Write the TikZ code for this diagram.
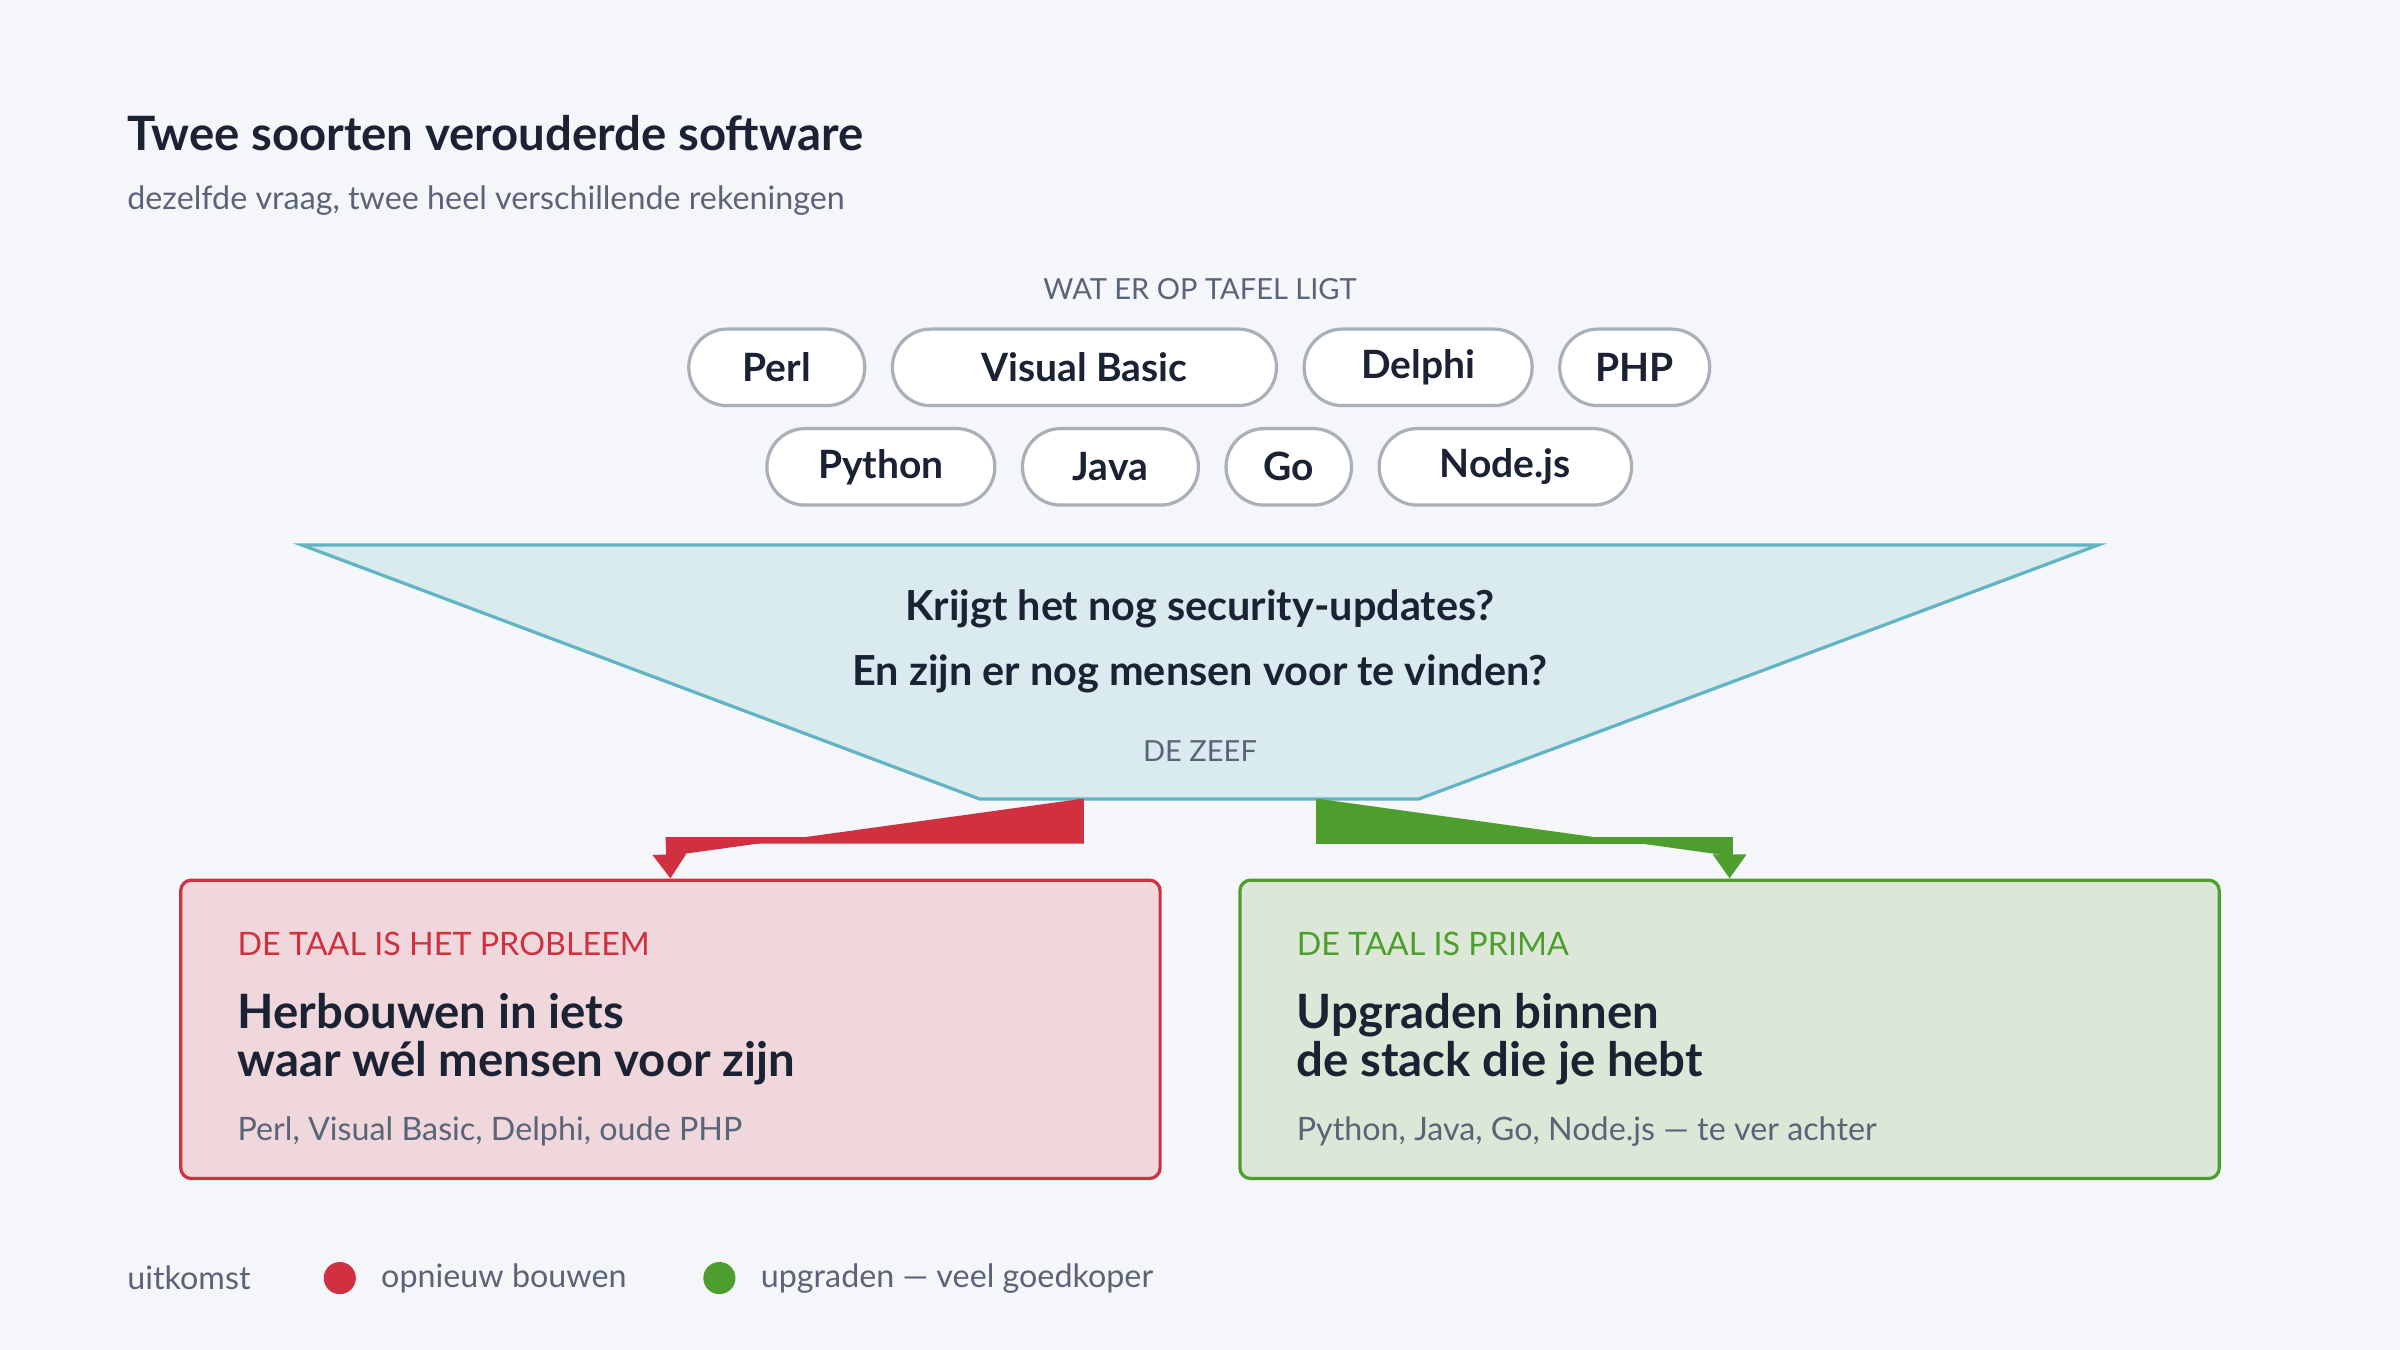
\documentclass[tikz,border=0pt]{standalone}
\usepackage{fontspec}
\setmainfont{Lato}
\usetikzlibrary{arrows.meta,positioning}
\definecolor{bg}{HTML}{F4F6FA}
\definecolor{ink}{HTML}{1A2233}
\definecolor{muted}{HTML}{5A6478}
\definecolor{redc}{HTML}{D0303F}
\definecolor{redf}{HTML}{EFD7DC}
\definecolor{greenc}{HTML}{4E9E2E}
\definecolor{greenf}{HTML}{DDE7D8}
\definecolor{bluef}{HTML}{D9EBEF}
\definecolor{bluec}{HTML}{62B3C4}
\definecolor{pillc}{HTML}{AAB0B8}
\begin{document}
\begin{tikzpicture}[x=0.02cm,y=-0.02cm,
  pill_style/.style={draw=pillc,line width=1.2pt,fill=white,rounded corners=25\pgfkeysvalueof{/pgf/inner xsep}*0+0.5cm,
    minimum height=1cm,font=\fontsize{14.5}{16}\selectfont\bfseries,text=ink,inner sep=0pt},
  label_style/.style={font=\fontsize{10.8}{12}\selectfont,text=muted},
  head_style/.style={anchor=west,font=\fontsize{17.6}{20}\selectfont\bfseries,text=ink},
  small_style/.style={anchor=west,font=\fontsize{12}{14}\selectfont,text=muted},
  arrow_style/.style={line width=2.4pt,-{Triangle[length=9pt,width=12pt]}}]
  \fill[bg] (0,0) rectangle (1568,882);
  % title
  \node[anchor=west,font=\fontsize{17.6}{20}\selectfont\bfseries,text=ink] (title) at (77,87) {Twee soorten verouderde software};
  \node[small_style] (subtitle) at (77,131) {dezelfde vraag, twee heel verschillende rekeningen};
  % pills
  \node[label_style] (table) at (784,189) {WAT ER OP TAFEL LIGT};
  \node[pill_style,minimum width=2.3cm] (perl) at (507.5,240) {Perl};
  \node[pill_style,minimum width=5.02cm] (vb) at (708.5,240) {Visual Basic};
  \node[pill_style,minimum width=2.98cm] (delphi) at (926.5,240) {Delphi};
  \node[pill_style,minimum width=1.96cm] (php) at (1068,240) {PHP};
  \node[pill_style,minimum width=2.98cm] (python) at (575.5,305) {Python};
  \node[pill_style,minimum width=2.3cm] (java) at (725.5,305) {Java};
  \node[pill_style,minimum width=1.64cm] (go) at (842,305) {Go};
  \node[pill_style,minimum width=3.3cm] (node) at (983.5,305) {Node.js};
  % funnel
  \draw[fill=bluef,draw=bluec,line width=1.2pt] (197,356) -- (1371,356) -- (927,522) -- (640,522) -- cycle;
  \node[font=\fontsize{15.4}{24}\selectfont\bfseries,text=ink,align=center] (sieve) at (784,419)
    {Krijgt het nog security-updates?\\En zijn er nog mensen voor te vinden?};
  \node[label_style] (zeef) at (784,491) {DE ZEEF};
  \coordinate (outred) at (706,522);
  \coordinate (outgreen) at (862,522);
  % outcome boxes
  \node[draw=redc,fill=redf,line width=1.2pt,rounded corners=4pt,minimum width=12.8cm,minimum height=3.9cm] (rebuild) at (438,672.5) {};
  \node[draw=greenc,fill=greenf,line width=1.2pt,rounded corners=4pt,minimum width=12.8cm,minimum height=3.9cm] (upgrade) at (1130,672.5) {};
  \node[anchor=west,font=\fontsize{12}{14}\selectfont,text=redc] (redtag) at (149,617) {DE TAAL IS HET PROBLEEM};
  \node[head_style,align=left] (redhead) at (149,679) {Herbouwen in iets\\[-2pt]waar wél mensen voor zijn};
  \node[small_style] (redlist) at (149,739) {Perl, Visual Basic, Delphi, oude PHP};
  \node[anchor=west,font=\fontsize{12}{14}\selectfont,text=greenc] (greentag) at (841,617) {DE TAAL IS PRIMA};
  \node[head_style,align=left] (greenhead) at (841,679) {Upgraden binnen\\[-2pt]de stack die je hebt};
  \node[small_style] (greenlist) at (841,739) {Python, Java, Go, Node.js — te ver achter};
  % arrows
  \draw[arrow_style,draw=redc,fill=redc] (outred) |- (437,549) -- (rebuild.north);
  \draw[arrow_style,draw=greenc,fill=greenc] (outgreen) |- (1130,549) -- (upgrade.north);
  % legend
  \node[small_style] (legend) at (77,835) {uitkomst};
  \node[circle,fill=redc,minimum size=0.42cm,inner sep=0pt] (reddot) at (222,835) {};
  \node[small_style,right=0.2cm of reddot] (redtext) {opnieuw bouwen};
  \node[circle,fill=greenc,minimum size=0.42cm,inner sep=0pt] (greendot) at (470,835) {};
  \node[small_style,right=0.2cm of greendot] (greentext) {upgraden — veel goedkoper};
\end{tikzpicture}
\end{document}
